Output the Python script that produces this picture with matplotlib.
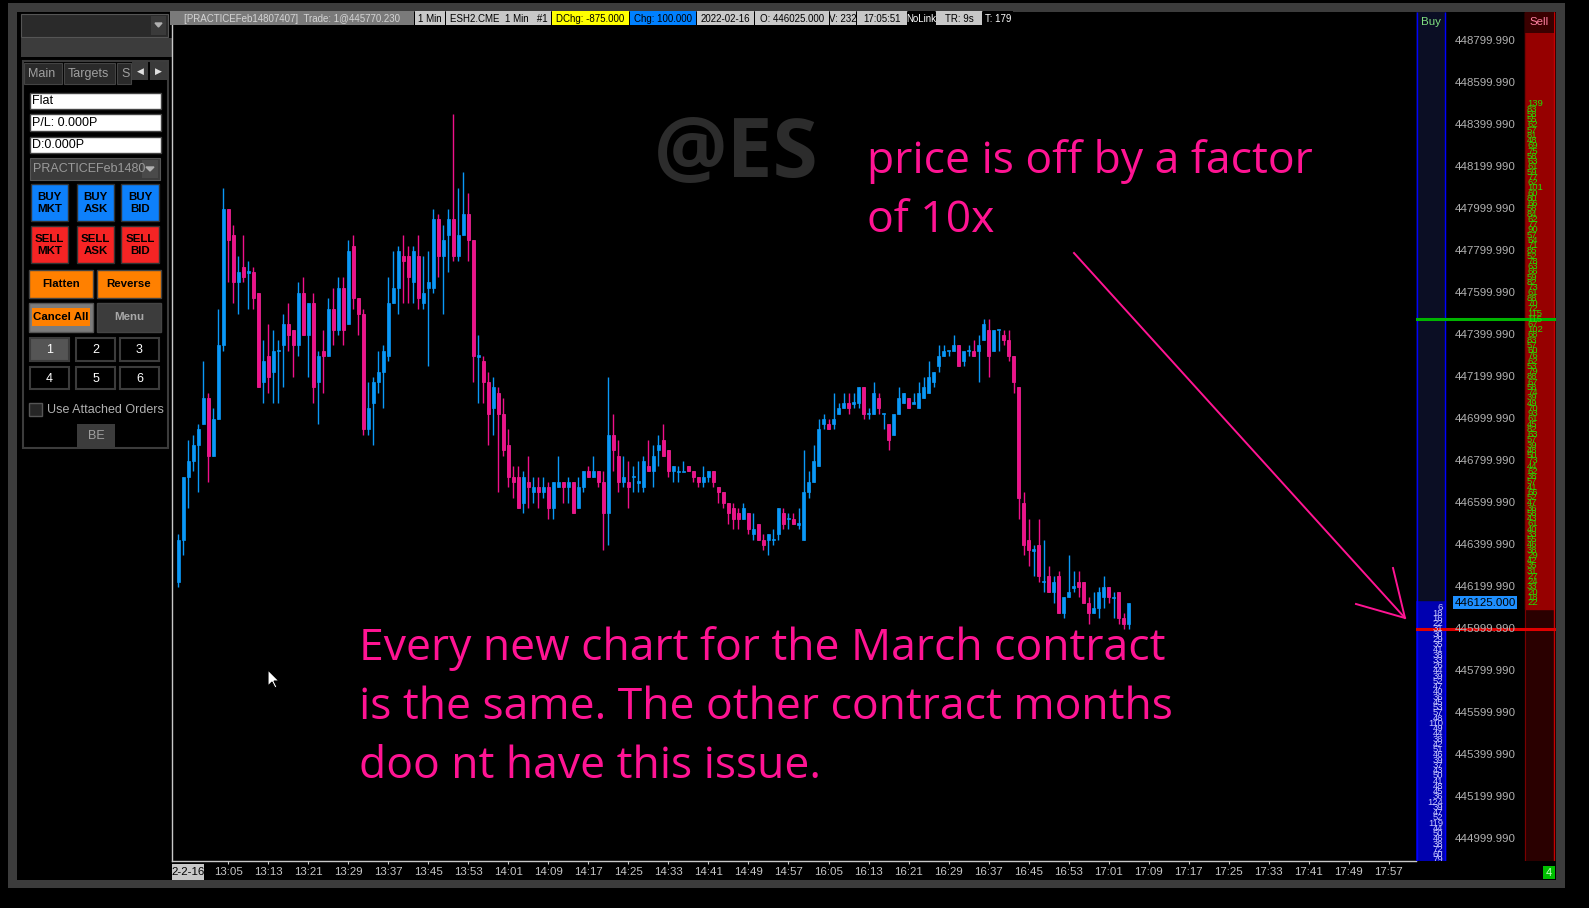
import numpy as np
import matplotlib.pyplot as plt
from matplotlib.patches import Rectangle, Polygon

plt.rcParams['font.family'] = ['Liberation Sans', 'DejaVu Sans']

# 1-minute bars, 12:55 -> 17:05 (session break after 14:59)
opens = [446225, 446425, 446725, 446800, 446875, 446975, 447100, 446825, 447000, 447350,
         448000, 447875, 447650, 447725, 447700, 447700, 447600, 447175, 447300, 447225,
         447325, 447350, 447450, 447425, 447350, 447600, 447400, 447550, 447175, 447325,
         447300, 447525, 447425, 447625, 447450, 447825, 447575, 447500, 446950, 447075,
         447175, 447225, 447300, 447550, 447625, 447775, 447775, 447650, 447775, 447550,
         447625, 447625, 447950, 447775, 447875, 447950, 447775, 447875, 447975, 447850,
         447300, 447275, 447175, 447050, 447125, 447025, 446875, 446725, 446725, 446600,
         446700, 446650, 446675, 446650, 446675, 446575, 446675, 446700, 446675, 446700,
         446575, 446675, 446750, 446725, 446750, 446700, 446550, 446925, 446825, 446700,
         446700, 446725, 446700, 446675, 446775, 446750, 446850, 446900, 446850, 446750,
         446750, 446750, 446775, 446750, 446725, 446700, 446725, 446750, 446675, 446650,
         446600, 446575, 446550, 446525, 446550, 446450, 446500, 446425, 446425, 446425,
         446450, 446550, 446525, 446525, 446500, 446425, 446650, 446700, 446775, 446975,
         446975, 446975, 447025, 447050, 447075, 447075, 447075, 447150, 447025, 447025,
         447100, 447025, 446975, 446925, 447025, 447075, 447100, 447075, 447050, 447100,
         447125, 447175, 447250, 447300, 447325, 447325, 447350, 447275, 447325, 447325,
         447325, 447375, 447425, 447325, 447425, 447400, 447375, 447300, 447150, 446600,
         446425, 446375, 446400, 446225, 446250, 446175, 446250, 446075, 446150, 446200,
         446225, 446225, 446125, 446075, 446100, 446150, 446200, 446150, 446175, 446050,
         446025]
highs = [446450, 446725, 446900, 446925, 446975, 447275, 447125, 447050, 447525, 448100,
         448000, 447925, 447775, 447875, 447750, 447725, 447600, 447375, 447450, 447425,
         447375, 447500, 447550, 447425, 447650, 447675, 447550, 447600, 447325, 447425,
         447575, 447625, 447675, 447675, 447850, 447875, 447575, 447525, 447175, 447200,
         447325, 447350, 447675, 447800, 447825, 447875, 447825, 447825, 447875, 447775,
         447800, 448000, 447975, 447925, 448000, 448450, 448100, 448175, 448075, 447850,
         447400, 447300, 447225, 447200, 447150, 447100, 446950, 446775, 446775, 446750,
         446825, 446725, 446725, 446725, 446700, 446700, 446825, 446700, 446725, 446700,
         446725, 446750, 446775, 446825, 446750, 446750, 447200, 447025, 446900, 446825,
         446800, 446775, 446800, 446825, 446900, 446875, 446925, 446975, 446850, 446775,
         446775, 446800, 446775, 446750, 446725, 446775, 446750, 446750, 446675, 446650,
         446600, 446600, 446575, 446600, 446550, 446550, 446500, 446450, 446450, 446475,
         446575, 446575, 446550, 446550, 446575, 446850, 446750, 446875, 447000, 447025,
         447000, 447125, 447075, 447125, 447125, 447125, 447150, 447150, 447050, 447175,
         447125, 447025, 446975, 447025, 447150, 447125, 447100, 447125, 447175, 447200,
         447275, 447225, 447350, 447350, 447325, 447400, 447350, 447325, 447350, 447375,
         447400, 447475, 447475, 447425, 447425, 447425, 447425, 447300, 447150, 446650,
         446525, 446400, 446525, 446425, 446300, 446250, 446275, 446150, 446350, 446275,
         446275, 446225, 446150, 446175, 446200, 446250, 446200, 446175, 446175, 446075,
         446125]
lows = [446200, 446350, 446575, 446750, 446650, 446975, 446700, 446825, 447000, 447325,
        447650, 447550, 447500, 447650, 447525, 447525, 447150, 447075, 447125, 447075,
        447075, 447150, 447325, 447200, 447300, 447400, 447200, 447075, 446975, 447125,
        447300, 447350, 447400, 447350, 447450, 447525, 447400, 446925, 446925, 446875,
        447125, 447050, 447275, 447550, 447500, 447550, 447550, 447550, 447525, 447525,
        447250, 447600, 447675, 447500, 447700, 447750, 447750, 447875, 447750, 447175,
        447075, 447075, 446875, 446925, 446650, 446825, 446675, 446625, 446575, 446550,
        446575, 446600, 446575, 446625, 446525, 446525, 446675, 446600, 446600, 446550,
        446575, 446650, 446725, 446725, 446675, 446375, 446400, 446750, 446650, 446675,
        446575, 446650, 446650, 446650, 446750, 446675, 446775, 446825, 446725, 446700,
        446700, 446750, 446750, 446700, 446675, 446675, 446700, 446675, 446600, 446575,
        446500, 446475, 446475, 446525, 446450, 446425, 446425, 446375, 446350, 446400,
        446425, 446475, 446475, 446500, 446475, 446425, 446625, 446700, 446775, 446950,
        446950, 446950, 447025, 447050, 447025, 447050, 447050, 447000, 447000, 447025,
        447025, 446950, 446850, 446925, 447025, 447075, 447050, 447075, 447050, 447100,
        447125, 447150, 447225, 447300, 447300, 447325, 447250, 447250, 447300, 447300,
        447175, 447375, 447200, 447325, 447325, 447350, 447275, 447125, 446525, 446350,
        446300, 446250, 446225, 446175, 446175, 446125, 446075, 446050, 446150, 446175,
        446150, 446125, 446025, 446075, 446050, 446100, 446125, 446050, 446025, 446000,
        446000]
closes = [446425, 446725, 446800, 446875, 446950, 447100, 446825, 447000, 447350, 448000,
          447850, 447650, 447700, 447675, 447700, 447575, 447150, 447275, 447200, 447325,
          447325, 447450, 447400, 447350, 447600, 447400, 447550, 447150, 447300, 447300,
          447525, 447425, 447625, 447425, 447800, 447575, 447500, 446950, 447050, 447175,
          447225, 447325, 447550, 447625, 447800, 447750, 447675, 447800, 447575, 447600,
          447650, 447950, 447775, 447850, 447950, 447775, 447875, 447975, 447850, 447300,
          447300, 447175, 447025, 447150, 447025, 446850, 446725, 446700, 446575, 446725,
          446675, 446675, 446650, 446675, 446575, 446700, 446700, 446675, 446700, 446550,
          446675, 446750, 446725, 446750, 446700, 446550, 446925, 446850, 446700, 446725,
          446675, 446725, 446700, 446800, 446750, 446825, 446875, 446825, 446750, 446775,
          446750, 446750, 446750, 446725, 446700, 446725, 446750, 446700, 446650, 446600,
          446550, 446525, 446525, 446575, 446475, 446475, 446425, 446400, 446450, 446425,
          446575, 446500, 446525, 446500, 446500, 446650, 446700, 446800, 446950, 447000,
          446950, 447000, 447050, 447075, 447050, 447075, 447150, 447025, 447025, 447125,
          447050, 447025, 446900, 447025, 447100, 447125, 447050, 447075, 447125, 447150,
          447200, 447225, 447300, 447325, 447325, 447350, 447250, 447325, 447325, 447300,
          447350, 447450, 447300, 447425, 447425, 447375, 447300, 447175, 446625, 446400,
          446375, 446375, 446250, 446225, 446175, 446225, 446075, 446150, 446175, 446200,
          446200, 446125, 446075, 446100, 446175, 446200, 446150, 446150, 446050, 446025,
          446125]

time_labels = ["13:05", "13:13", "13:21", "13:29", "13:37", "13:45", "13:53", "14:01",
               "14:09", "14:17", "14:25", "14:33", "14:41", "14:49", "14:57",
               "16:05", "16:13", "16:21", "16:29", "16:37", "16:45", "16:53", "17:01",
               "17:09", "17:17", "17:25", "17:33", "17:41", "17:49", "17:57"]

price_ticks = [444999.99, 445199.99, 445399.99, 445599.99, 445799.99, 445999.99,
               446199.99, 446399.99, 446599.99, 446799.99, 446999.99, 447199.99,
               447399.99, 447599.99, 447799.99, 447999.99, 448199.99, 448399.99,
               448599.99, 448799.99]

# depth ladder (sell side from 448500 down, buy side from 446100 down, 25 per level)
ask_sizes = [139, 83, 58, 55, 62, 57, 81, 48, 69, 75, 58, 63, 61, 59, 77, 62, 101, 60, 80, 66,
             58, 84, 62, 77, 90, 57, 64, 71, 85, 52, 78, 63, 66, 59, 82, 73, 61, 88, 70, 72,
             115, 115, 67, 102, 68, 83, 57, 60, 76, 62, 53, 79, 88, 67, 58, 74, 39, 49, 70, 93,
             61, 45, 82, 63, 57, 39, 48, 50, 73, 44, 62, 38, 57, 41, 66, 52, 47, 36, 58, 43,
             61, 40, 33, 55, 46, 38, 29, 42, 35, 31, 27, 24, 33, 20, 18, 22]
bid_sizes = [6, 18, 16, 22, 31, 30, 29, 35, 41, 38, 33, 26, 44, 39, 52, 47, 40, 36, 45, 53,
             57, 48, 110, 49, 44, 38, 42, 51, 46, 39, 37, 43, 50, 41, 48, 45, 36, 124, 39, 47,
             52, 119, 44, 50, 46, 38, 72, 60, 79]
ask_top = 448500
bid_top = 446100
last_price = 446125.0
green_level = 447475.0
red_level = 446000.0
bid_edge = 446137.5
ask_edge = 446095.0

BLUE = '#0a98f7'
PINK = '#f0108a'
PINK_EDGE = '#ff2aa0'
NOTE = '#ff1493'

W, H = 1589, 908
fig = plt.figure(figsize=(W / 100, H / 100), dpi=100, facecolor='black')


def pt(px):
    return px * 0.72


def box(a, x0, y0, x1, y1, fc, ec='none', lw=0, z=1):
    a.add_patch(Rectangle((x0, y0), x1 - x0, y1 - y0, facecolor=fc,
                          edgecolor=ec, linewidth=lw, zorder=z))


def px_axes(z):
    a = fig.add_axes([0, 0, 1, 1], zorder=z)
    a.set_xlim(0, W)
    a.set_ylim(H, 0)
    a.axis('off')
    a.patch.set_alpha(0)
    return a


bg = px_axes(0)
fg = px_axes(5)

# window frame
box(bg, 8, 3, 1565, 888, '#3c3c3c')
box(bg, 17, 12, 1556, 880, 'black')

# ---- left order panel ----
box(bg, 21, 14, 168, 37, '#2a2a2a', '#555555', 0.8)
box(bg, 151, 16, 166, 35, '#3a3a3a')
bg.add_patch(Polygon([[155, 23], [162, 23], [158.5, 27]], color='#b0b0b0', zorder=2))
box(bg, 21, 38, 172, 57, '#3c3c3c')
box(bg, 23, 61, 168, 448, 'black', '#3c3c3c', 1.5)
for x0, x1, lab in [(24, 62, 'Main'), (64, 115, 'Targets'), (117, 131, 'S')]:
    box(bg, x0, 63, x1, 84, '#2a2a2a', '#444444', 0.8, z=2)
    bg.text(x0 + 4, 74, lab, color='#a0a0a0', fontsize=pt(12.5), va='center', zorder=3,
            clip_on=True)
for x0, x1, s in [(132, 148, '◀'), (150, 167, '▶')]:
    box(bg, x0, 62, x1, 80, '#3a3a3a', z=3)
    bg.text((x0 + x1) / 2, 71, s, color='#e0e0e0', fontsize=pt(9), ha='center', va='center',
            family=['DejaVu Sans'], zorder=4)
for y0, y1, s in [(93, 109, 'Flat'), (114, 131, 'P/L: 0.000P'), (137, 153, 'D:0.000P')]:
    box(bg, 30, y0, 161, y1, 'white', '#444444', 1)
    bg.text(32, (y0 + y1) / 2 + 0.5, s, color='black', fontsize=pt(12.5), va='center')
box(bg, 30, 158, 160, 180, '#3c3c3c', '#555555', 0.8)
bg.text(33, 169, 'PRACTICEFeb1480', color='#9a9a9a', fontsize=pt(12.5), va='center')
box(bg, 142, 160, 158, 178, '#4a4a4a', z=2)
bg.add_patch(Polygon([[146, 167], [154, 167], [150, 171]], color='#b0b0b0', zorder=3))

btn_x = [(31, 68), (77, 114), (121, 159)]
for (x0, x1), s in zip(btn_x, ['BUY\nMKT', 'BUY\nASK', 'BUY\nBID']):
    box(bg, x0, 184, x1, 221, '#0d80fb', '#333333', 1)
    bg.text((x0 + x1) / 2, 203, s, color='black', fontsize=pt(11.5), weight='bold',
            ha='center', va='center', linespacing=1.2)
for (x0, x1), s in zip(btn_x, ['SELL\nMKT', 'SELL\nASK', 'SELL\nBID']):
    box(bg, x0, 226, x1, 263, '#f52424', '#333333', 1)
    bg.text((x0 + x1) / 2, 245, s, color='black', fontsize=pt(11.5), weight='bold',
            ha='center', va='center', linespacing=1.2)
for x0, x1, s in [(29, 93, 'Flatten'), (97, 161, 'Reverse')]:
    box(bg, x0, 270, x1, 298, '#ff8000', '#444444', 1)
    bg.text((x0 + x1) / 2, 284, s, color='black', fontsize=pt(11.5), weight='bold',
            ha='center', va='center')
box(bg, 29, 303, 93, 332, '#7c7c7c', '#555555', 1)
box(bg, 32, 308, 90, 326, '#ff8000', z=2)
bg.text(61, 317, 'Cancel All', color='black', fontsize=pt(11.5), weight='bold',
        ha='center', va='center', zorder=3)
box(bg, 97, 303, 161, 332, '#3c3c3c', '#444444', 1)
bg.text(129, 317, 'Menu', color='#a8a8a8', fontsize=pt(11.5), weight='bold',
        ha='center', va='center')
num_x = [(30, 69), (76, 115), (120, 159)]
for row, (y0, y1) in enumerate([(338, 361), (367, 389)]):
    for col, (x0, x1) in enumerate(num_x):
        n = row * 3 + col + 1
        box(bg, x0, y0, x1, y1, '#555555' if n == 1 else 'black', '#3c3c3c', 1.5)
        bg.text((x0 + x1) / 2, (y0 + y1) / 2 + 0.5, str(n), color='white',
                fontsize=pt(12.5), ha='center', va='center')
box(bg, 29, 403, 42, 416, '#262626', '#555555', 1)
bg.text(47, 410, 'Use Attached Orders', color='#b0b0b0', fontsize=pt(12.5), va='center')
box(bg, 77, 424, 115, 447, '#3c3c3c')
bg.text(96, 436, 'BE', color='#a0a0a0', fontsize=pt(12.5), ha='center', va='center')

# ---- candle chart ----
o = np.array(opens, dtype=float)
h = np.array(highs, dtype=float)
l = np.array(lows, dtype=float)
c = np.array(closes, dtype=float)
idx = np.arange(len(o))
up = c >= o
cols = np.where(up, BLUE, PINK)
edges = np.where(up, BLUE, PINK_EDGE)

ylo, yhi = 444895.0, 448938.0
ax = fig.add_axes([172 / W, 1 - 861 / H, (1416 - 172) / W, (861 - 12) / H],
                  facecolor='black', zorder=2)
ax.set_xlim(-1.26, 247.46)
ax.set_ylim(ylo, yhi)
ax.vlines(idx, l, h, colors=cols, linewidth=1.0)
body = np.maximum(np.abs(c - o), 7.0)
bottom = np.minimum(o, c) - (body - np.abs(c - o)) / 2
ax.bar(idx, body, bottom=bottom, width=0.62, color=cols, edgecolor=edges, linewidth=0.5)

ax.text(111.5, 448255, '@ES', color='#2c2c2c', fontsize=59, weight='bold',
        family=['Open Sans', 'DejaVu Sans'], ha='center', va='center', zorder=0)

for side in ['top', 'right']:
    ax.spines[side].set_visible(False)
for side in ['left', 'bottom']:
    ax.spines[side].set_color('#c8c8c8')
    ax.spines[side].set_linewidth(1.0)
ax.set_xticks([10 + 8 * k for k in range(len(time_labels))])
ax.set_xticklabels(time_labels)
ax.set_yticks([])
ax.tick_params(axis='x', colors='#c8c8c8', labelcolor='#c8c8c8', length=2.5, width=0.8,
               labelsize=pt(11.5), pad=2)

# date stamp box at start of axis
box(bg, 172, 864, 204, 880, '#c8c8c8')
bg.text(188, 872, '2-2-16', color='black', fontsize=pt(11.5), ha='center', va='center')

# ---- price ladder on the right ----
rax = fig.add_axes([1416 / W, 1 - 861 / H, 140 / W, 849 / H], facecolor='black', zorder=2)
rax.set_xlim(1416, 1556)
rax.set_ylim(ylo, yhi)
rax.axis('off')
rax.add_patch(Rectangle((1416, ylo), 29, bid_edge - ylo, color='#0000b0'))
rax.add_patch(Rectangle((1416, bid_edge), 29, yhi - bid_edge, color='#0b0e24'))
rax.add_patch(Rectangle((1525, ylo), 29, ask_edge - ylo, color='#2a0000'))
rax.add_patch(Rectangle((1525, ask_edge), 29, yhi - ask_edge, color='#960000'))
rax.vlines([1416.6, 1445], ylo, yhi, colors='#0000ff', linewidth=1.0)
rax.vlines([1525], ylo, yhi, colors='#7a0000', linewidth=0.8)
rax.vlines([1554], ylo, yhi, colors='#c80000', linewidth=1.0)
for p in price_ticks:
    rax.text(1485, p, f'{p:.3f}', color='#b0b0b0', fontsize=pt(11.5),
             ha='center', va='center')
for k, s in enumerate(ask_sizes):
    rax.text(1527, ask_top - 25 * k, str(s), color='#22e000', fontsize=pt(9.5),
             ha='left', va='center', clip_on=True)
for k, s in enumerate(bid_sizes):
    rax.text(1443, bid_top - 25 * k, str(s), color='#c8c8ff', fontsize=pt(9.5),
             ha='right', va='center', clip_on=True)
rax.axhline(green_level, color='#00b400', linewidth=2.2)
rax.axhline(red_level, color='#e00000', linewidth=2.2)
rax.text(1485, last_price, f'{last_price:.3f}', color='black', fontsize=pt(11.5),
         ha='center', va='center',
         bbox=dict(boxstyle='square,pad=0.12', facecolor='#1e8fff', edgecolor='none'))

box(fg, 1525, 12, 1554, 33, '#3a0000')
fg.text(1539.5, 22, 'Sell', color='#ff7fa0', fontsize=pt(11.5), ha='center', va='center')
fg.text(1430.5, 22, 'Buy', color='#80e080', fontsize=pt(11.5), ha='center', va='center')
box(fg, 1543, 866, 1555, 879, '#00c000')
fg.text(1549, 872.5, '4', color='#c8ffc8', fontsize=pt(11), ha='center', va='center')

# ---- info strip on top of the chart ----
strip = [(170, 414, '[PRACTICEFeb14807407]  Trade: 1@445770.230', '#7a7a7a', '#d4d4d4'),
         (415, 445, '1 Min', '#c8c8c8', 'black'),
         (446, 551, 'ESH2.CME  1 Min   #1', '#c8c8c8', 'black'),
         (552, 629, 'DChg: -875.000', '#ffff00', 'black'),
         (630, 696, 'Chg: 100.000', '#0080ff', 'black'),
         (697, 754, '2022-02-16', '#c8c8c8', 'black'),
         (755, 829, 'O: 446025.000', '#c8c8c8', 'black'),
         (830, 856, 'V: 232', '#c8c8c8', 'black'),
         (857, 907, '17:05:51', '#c8c8c8', 'black'),
         (908, 935, 'NoLink', 'black', 'white'),
         (936, 982, 'TR: 9s', '#c8c8c8', 'black'),
         (983, 1013, 'T: 179', 'black', 'white')]
for x0, x1, s, fc, tc in strip:
    box(fg, x0, 11, x1, 25, fc)
    fg.text((x0 + x1) / 2, 18.5, s, color=tc, fontsize=pt(9.8), ha='center', va='center')

# ---- annotations ----
note_font = ['Open Sans', 'DejaVu Sans']
for y, s in [(173, 'price is off by a factor'), (232, 'of 10x')]:
    fg.text(867, y, s, color=NOTE, fontsize=32, family=note_font, va='baseline')
for y, s in [(660, 'Every new chart for the March contract'),
             (719, 'is the same. The other contract months'),
             (778, 'doo nt have this issue.')]:
    fg.text(359, y, s, color=NOTE, fontsize=32, family=note_font, va='baseline')
fg.plot([1074, 1405], [253, 618], color=NOTE, linewidth=1.4)
fg.plot([1393, 1405, 1356], [568, 618, 604], color=NOTE, linewidth=1.4)

# mouse pointer
cur = np.array([[0, 0], [0, 16], [4, 12], [7, 18], [9, 17], [6, 11], [11, 11]]) + [268, 670]
fg.add_patch(Polygon(cur, facecolor='white', edgecolor='black', linewidth=0.8, zorder=6))

fig.savefig('out.png', dpi=100, facecolor='black')
